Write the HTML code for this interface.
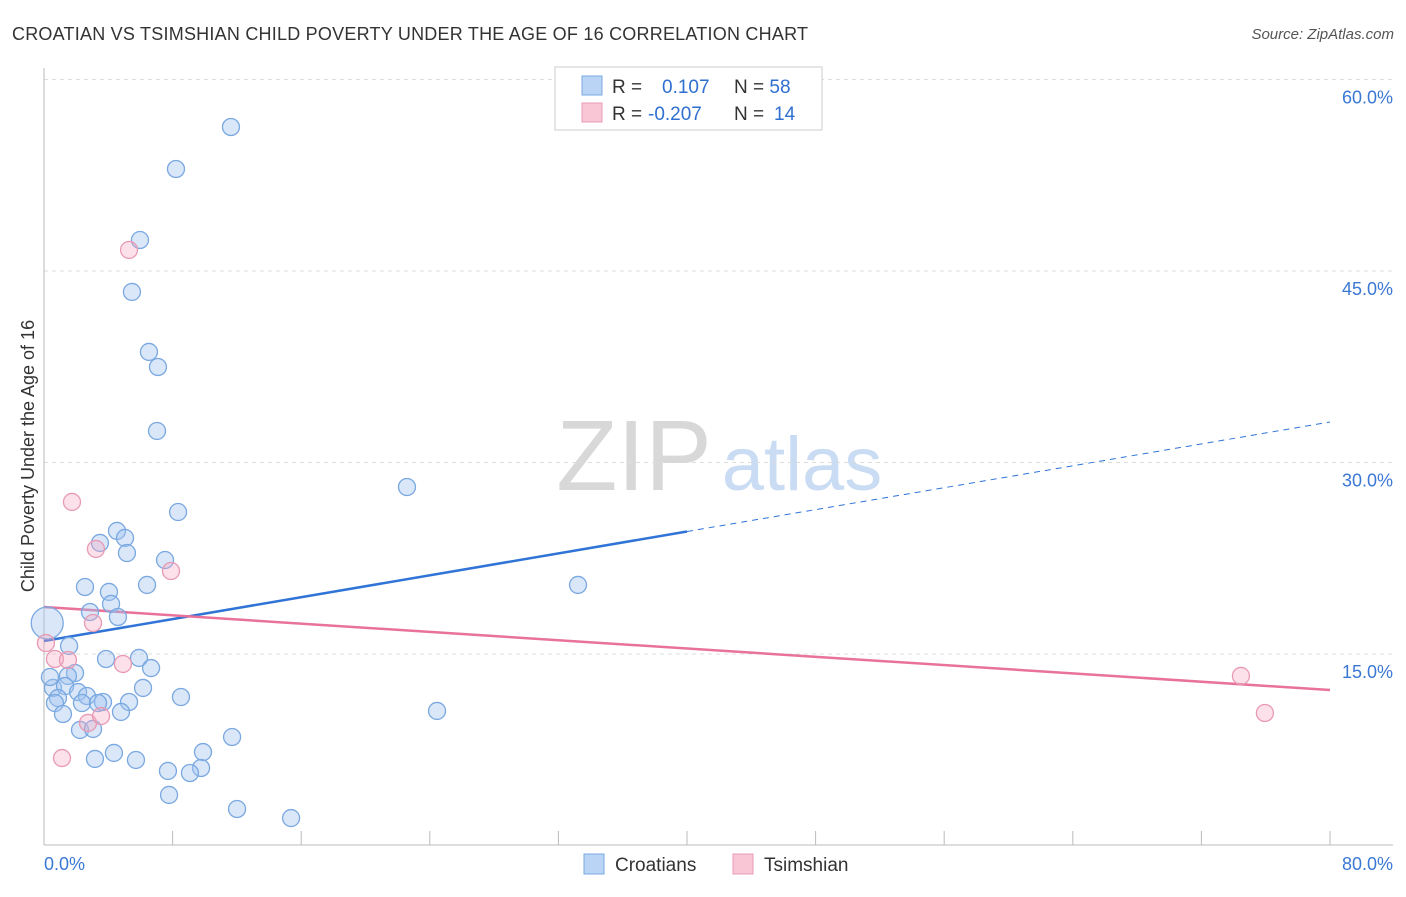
<!DOCTYPE html>
<html><head><meta charset="utf-8"><style>
body{margin:0;background:#fff;font-family:"Liberation Sans",sans-serif;}
svg text{font-family:"Liberation Sans",sans-serif;}
</style></head><body>
<svg width="1406" height="892" viewBox="0 0 1406 892" id="chart">
<text x="12" y="40" font-size="18" fill="#333" textLength="796" lengthAdjust="spacing">CROATIAN VS TSIMSHIAN CHILD POVERTY UNDER THE AGE OF 16 CORRELATION CHART</text>
<text x="1394" y="39" font-size="15" fill="#555" font-style="italic" text-anchor="end">Source: ZipAtlas.com</text>
<text x="0" y="0" transform="translate(34,456) rotate(-90)" font-size="18" fill="#333" text-anchor="middle">Child Poverty Under the Age of 16</text>
<g>
<text x="634" y="490" font-size="100" font-family="Liberation Serif" fill="#d8d8d8" text-anchor="middle">ZIP</text>
<text x="802" y="490" font-size="76" fill="#c9dcf3" text-anchor="middle">atlas</text>
</g>
<g id="grid"></g><g id="axes"></g><g id="trends"></g><g id="points"></g>
<g>
<rect x="555" y="67" width="267" height="63" fill="#fff" stroke="#ccc"/>
<rect x="582" y="76" width="20" height="19" fill="#b9d4f5" stroke="#7aa8e0"/>
<rect x="582" y="103" width="20" height="19" fill="#f9c6d6" stroke="#e89ab4"/>
<text x="612" y="93" font-size="19" fill="#333">R = <tspan fill="#2f6fd0" x="662">0.107</tspan><tspan x="734" fill="#333">N = </tspan><tspan fill="#2f6fd0">58</tspan></text>
<text x="612" y="120" font-size="19" fill="#333">R = <tspan fill="#2f6fd0" x="648">-0.207</tspan><tspan x="734" fill="#333">N = </tspan><tspan fill="#2f6fd0" x="774">14</tspan></text>
</g>
<g>
<rect x="584" y="854" width="20" height="20" fill="#b9d4f5" stroke="#7aa8e0"/>
<text x="615" y="871" font-size="19" fill="#333">Croatians</text>
<rect x="733" y="854" width="20" height="20" fill="#f9c6d6" stroke="#e89ab4"/>
<text x="764" y="871" font-size="19" fill="#333">Tsimshian</text>
</g>
</svg>
<script>
const yTicks=[15,30,45,60];
const yTickLabels=["15.0%","30.0%","45.0%","60.0%"];
const xTicks=[0,8,16,24,32,40,48,56,64,72,80];
const croX=[11.63,8.21,5.97,5.47,6.53,7.09,7.03,22.58,8.34,4.54,3.48,5.04,5.16,7.53,6.41,33.22,2.55,4.04,4.17,2.86,4.60,0.2,1.56,3.86,5.91,6.66,1.93,1.49,0.56,6.16,1.31,2.12,2.67,0.87,3.67,5.29,8.52,2.36,3.36,0.68,4.79,1.18,24.45,2.24,3.05,11.70,9.89,4.35,3.17,5.72,7.71,9.77,9.08,7.78,12.01,15.37,0.37];
const croY=[56.28,52.99,47.43,43.36,38.66,37.48,32.47,28.08,26.12,24.64,23.70,24.09,22.91,22.36,20.41,20.41,20.25,19.86,18.92,18.29,17.90,17.43,15.63,14.61,14.69,13.90,13.51,13.28,12.34,12.34,12.49,12.02,11.71,11.55,11.24,11.24,11.63,11.16,11.16,11.16,10.46,10.30,10.54,9.05,9.13,8.50,7.32,7.25,6.78,6.70,5.84,6.07,5.68,3.96,2.86,2.15,13.2];
const tsiX=[5.29,1.74,3.23,7.90,3.05,0.12,0.68,1.49,4.91,74.46,2.74,3.55,75.95,1.12];
const tsiY=[46.65,26.91,23.23,21.50,17.43,15.86,14.61,14.53,14.22,13.28,9.60,10.14,10.38,6.85];
const croTrend=[16.02,33.17], croSolidEnd=40;
const tsiTrend=[18.68,12.18];
const NS="http://www.w3.org/2000/svg";
const X=v=>44+v/80*1286, Y=v=>845.5-v/15*191.5;
function mk(p,t,a){const e=document.createElementNS(NS,t);for(const k in a)e.setAttribute(k,a[k]);document.getElementById(p).appendChild(e);return e;}
yTicks.forEach((t,i)=>{
 const l=mk('grid','line',{x1:44,x2:1393,y1:Y(t),y2:Y(t),stroke:'#ddd','stroke-dasharray':'4,4'});
 
 
 const tx=mk('grid','text',{x:1393,y:Y(t)+24,'font-size':18,fill:'#3b78d4','text-anchor':'end'});
 tx.textContent=yTickLabels[i];
 
 
});
const ya=mk('axes','line',{x1:44,x2:44,y1:68,y2:845,stroke:'#bbb'});


const xa=mk('axes','line',{x1:44,x2:1393,y1:845,y2:845,stroke:'#bbb'});


xTicks.forEach(t=>{
 const l=mk('axes','line',{x1:X(t),x2:X(t),y1:831,y2:845,stroke:'#bbb'});
 
 
});
const xl0=mk('axes','text',{x:44,y:870,'font-size':18,fill:'#3b78d4'});xl0.textContent='0.0%';


const xl1=mk('axes','text',{x:1393,y:870,'font-size':18,fill:'#3b78d4','text-anchor':'end'});xl1.textContent='80.0%';


croX.forEach((v,i)=>{
 const c=mk('points','circle',{cx:X(v),cy:Y(croY[i]),r:(i==21?16:8.5),fill:'rgba(160,196,240,0.4)',stroke:'#7aa8e0','stroke-width':1.3});
 
 
});
tsiX.forEach((v,i)=>{
 const c=mk('points','circle',{cx:X(v),cy:Y(tsiY[i]),r:8.5,fill:'rgba(245,170,195,0.35)',stroke:'#e89ab4','stroke-width':1.3});
 
 
});
const cy=x=>croTrend[0]+(croTrend[1]-croTrend[0])*x/80;
const b1=mk('trends','line',{x1:X(0),y1:Y(cy(0)),x2:X(croSolidEnd),y2:Y(cy(croSolidEnd)),stroke:'#2f74d6','stroke-width':2.5});


const b2=mk('trends','line',{x1:X(croSolidEnd),y1:Y(cy(croSolidEnd)),x2:X(80),y2:Y(cy(80)),stroke:'#2f74d6','stroke-width':1,'stroke-dasharray':'6,5'});


const p1=mk('trends','line',{x1:X(0),y1:Y(tsiTrend[0]),x2:X(80),y2:Y(tsiTrend[1]),stroke:'#e8729a','stroke-width':2.5});


</script>
</body></html>
